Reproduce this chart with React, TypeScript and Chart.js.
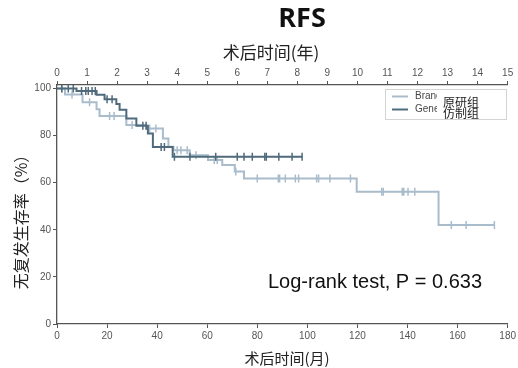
import React, { useEffect, useRef } from "react";
import { Chart, registerables } from "chart.js";

Chart.register(...registerables);

// ---- data ----
const monthTicks = [0, 20, 40, 60, 80, 100, 120, 140, 160, 180];
const yearTicks = [0, 1, 2, 3, 4, 5, 6, 7, 8, 9, 10, 11, 12, 13, 14, 15];
const survTicks = [0, 20, 40, 60, 80, 100];

// Brand (原研组) Kaplan–Meier steps: time in months, survival after the step (%)
const brandTimes = [0, 3.2, 10.2, 15.8, 17, 27.7, 35.6, 42.3, 44.5, 46.5, 53, 60.3, 66, 71, 74.7, 119.7, 152.4, 174.7];
const brandSurv = [100, 97.5, 94.2, 91.2, 88.3, 84.5, 83, 78.8, 75.3, 73.8, 71.7, 69.6, 67.5, 64.8, 61.8, 56.2, 42, 42];
const brandCensor = [2, 6, 13, 21, 22.8, 30, 37, 39.5, 48, 49.5, 52, 55.5, 62.8, 64, 71.4, 80, 88.4, 88.9, 91.2, 95.2, 96.5, 103.7, 104.5, 109, 117.2, 129.7, 130.3, 137.9, 138.5, 140.2, 142.9, 157.5, 163.4, 174.7];

// Generic (仿制组)
const genericTimes = [0, 7.8, 15.8, 19, 23.7, 25, 27.7, 31.7, 36.3, 38.3, 46.2, 98];
const genericSurv = [100, 99, 97.4, 95.5, 93.4, 91, 87.3, 84.2, 80.9, 75.2, 71, 71];
const genericCensor = [1.9, 4.5, 6.5, 9.8, 11.5, 12.5, 14, 15.3, 20, 22, 34.3, 35.6, 41.6, 42.9, 46.9, 53.1, 63.4, 72, 74.7, 78, 83, 83.6, 88.6, 93.9, 97.9];

const seriesNames = ["Brand", "Generic"];
const seriesNamesCn = ["原研组", "仿制组"];
const titleText = "RFS";
const pText = "Log-rank test, P = 0.633";

const LIGHT = "#a9bccb";
const DARK = "#4f6a7b";
const AXIS = "#555555";
const CJK = '"Noto Sans CJK SC", "Noto Sans", sans-serif';
const LATIN = '"Liberation Sans", Arial, sans-serif';

function survAt(times: number[], surv: number[], t: number) {
  let v = surv[0];
  for (let i = 0; i < times.length; i++) if (times[i] <= t) v = surv[i];
  return v;
}

const overlay = {
  id: "overlay",
  afterDraw(chart: any) {
    const ctx = chart.ctx as CanvasRenderingContext2D;
    ctx.save();
    // Title
    ctx.fillStyle = "#111";
    ctx.textAlign = "center";
    ctx.textBaseline = "middle";
    ctx.font = 'bold 27px "Open Sans", "Noto Sans", sans-serif';
    ctx.fillText(titleText, 302, 19);
    // top axis title
    ctx.fillStyle = "#222";
    ctx.font = `17px ${CJK}`;
    ctx.fillText("术后时间(年)", 271, 53);
    // bottom axis title
    ctx.font = `15px ${CJK}`;
    ctx.fillText("术后时间(月)", 287, 358);
    // y title
    ctx.save();
    ctx.translate(21, 218);
    ctx.rotate(-Math.PI / 2);
    ctx.font = `16px ${CJK}`;
    ctx.fillText("无复发生存率（%）", 0, 0);
    ctx.restore();
    // log-rank
    ctx.textAlign = "left";
    ctx.textBaseline = "alphabetic";
    ctx.font = `20px ${LATIN}`;
    ctx.fillStyle = "#111";
    ctx.fillText(pText, 268, 288);
    // legend
    ctx.fillStyle = "#fff";
    ctx.fillRect(385.5, 89.5, 121, 30);
    ctx.strokeStyle = "#d4d4d4";
    ctx.lineWidth = 1;
    ctx.strokeRect(385.5, 89.5, 121, 30);
    const cols = [LIGHT, DARK];
    const ly = [96.5, 109.5];
    const cy = [102, 113];
    for (let i = 0; i < 2; i++) {
      ctx.strokeStyle = cols[i];
      ctx.lineWidth = 2;
      ctx.beginPath();
      ctx.moveTo(392, ly[i]);
      ctx.lineTo(408, ly[i]);
      ctx.stroke();
      ctx.save();
      ctx.beginPath();
      ctx.rect(410, 88, 27, 32);
      ctx.clip();
      ctx.fillStyle = "#444";
      ctx.font = `10px ${LATIN}`;
      ctx.textBaseline = "middle";
      ctx.fillText(seriesNames[i], 415, ly[i]);
      ctx.restore();
      ctx.fillStyle = "#222";
      ctx.font = `12px ${CJK}`;
      ctx.textBaseline = "middle";
      ctx.fillText(seriesNamesCn[i], 443, cy[i]);
    }
    ctx.restore();
  },
};

export default function App() {
  const ref = useRef<HTMLCanvasElement | null>(null);
  useEffect(() => {
    document.body.style.margin = "0";
    const tickFont = { family: LATIN, size: 10 };
    const grid = { drawOnChartArea: false, drawTicks: true, tickLength: 4, color: AXIS, lineWidth: 1 };
    const border = { display: true, color: AXIS, width: 1.3 };
    const chart = new Chart(ref.current as HTMLCanvasElement, {
      type: "line",
      data: {
        datasets: [
          {
            label: seriesNames[1],
            data: genericTimes.map((t, i) => ({ x: t, y: genericSurv[i] })),
            stepped: "before",
            borderColor: DARK,
            borderWidth: 2,
            pointRadius: 0,
            fill: false,
          },
          {
            label: seriesNames[1] + " censored",
            data: genericCensor.map((t) => ({ x: t, y: survAt(genericTimes, genericSurv, t) })),
            showLine: false,
            pointStyle: "line",
            rotation: 90,
            pointRadius: 4,
            pointBorderWidth: 1.5,
            borderColor: DARK,
            pointBorderColor: DARK,
          },
          {
            label: seriesNames[0],
            data: brandTimes.map((t, i) => ({ x: t, y: brandSurv[i] })),
            stepped: "before",
            borderColor: LIGHT,
            borderWidth: 2,
            pointRadius: 0,
            fill: false,
          },
          {
            label: seriesNames[0] + " censored",
            data: brandCensor.map((t) => ({ x: t, y: survAt(brandTimes, brandSurv, t) })),
            showLine: false,
            pointStyle: "line",
            rotation: 90,
            pointRadius: 4,
            pointBorderWidth: 1.5,
            borderColor: LIGHT,
            pointBorderColor: LIGHT,
          },
        ],
      } as any,
      options: {
        animation: false,
        responsive: true,
        maintainAspectRatio: false,
        layout: { padding: { top: 0, right: 8, bottom: 0, left: 0 } },
        plugins: { legend: { display: false }, title: { display: false }, tooltip: { enabled: false } },
        scales: {
          x: {
            type: "linear",
            position: "bottom",
            min: 0,
            max: 180,
            afterBuildTicks: (s: any) => { s.ticks = monthTicks.map((v) => ({ value: v })); },
            afterFit: (s: any) => { s.height = 44; },
            ticks: { font: tickFont, color: AXIS, padding: 2, maxRotation: 0, autoSkip: false },
            grid,
            border,
          },
          x2: {
            type: "linear",
            position: "top",
            min: 0,
            max: 15,
            afterBuildTicks: (s: any) => { s.ticks = yearTicks.map((v) => ({ value: v })); },
            afterFit: (s: any) => { s.height = 85; },
            ticks: { font: tickFont, color: AXIS, padding: 2, maxRotation: 0, autoSkip: false },
            grid,
            border,
          },
          y: {
            type: "linear",
            min: 0,
            max: 101.5,
            afterBuildTicks: (s: any) => { s.ticks = survTicks.map((v) => ({ value: v })); },
            afterFit: (s: any) => { s.width = 57; },
            ticks: { font: tickFont, color: AXIS, padding: 2 },
            grid,
            border,
          },
        },
      } as any,
      plugins: [overlay],
    });
    return () => chart.destroy();
  }, []);
  return (
    <div style={{ width: 518, height: 368, position: "relative", background: "#fff" }}>
      <canvas ref={ref} />
    </div>
  );
}
